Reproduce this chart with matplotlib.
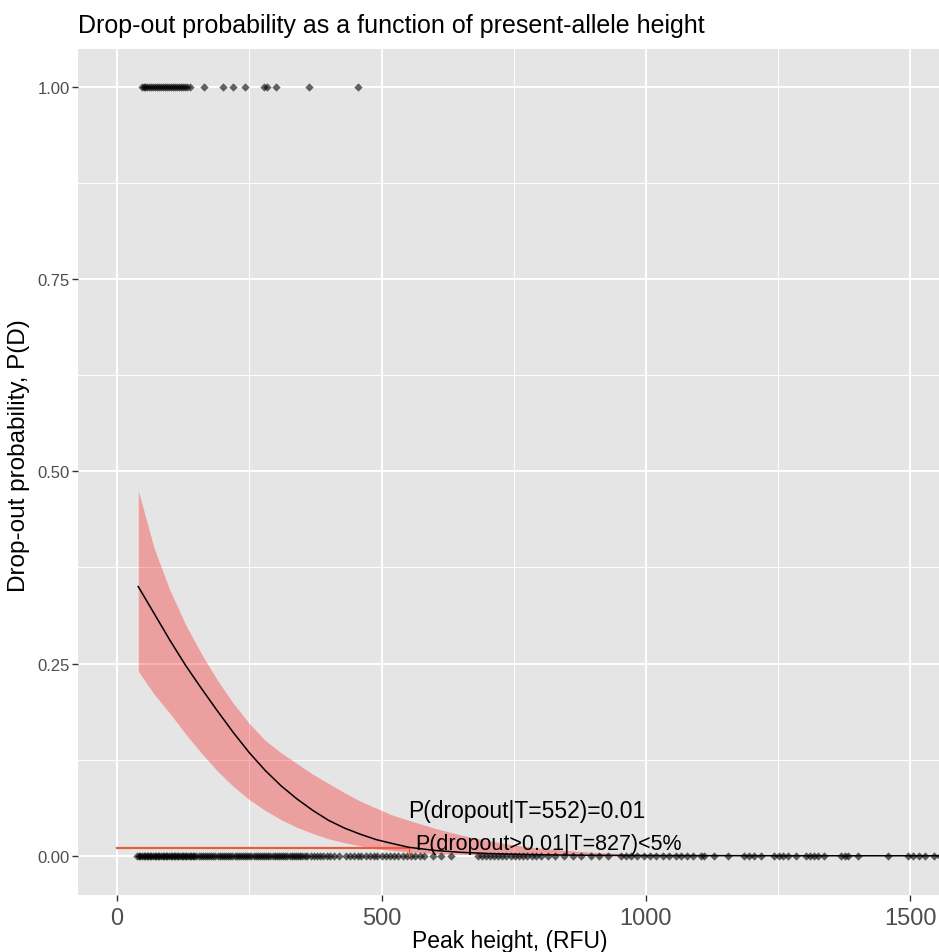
import matplotlib.pyplot as plt

plt.rcParams["font.family"] = ["Liberation Sans", "DejaVu Sans"]

# observed drop-outs (P(D)=1) and present alleles (P(D)=0), peak heights in RFU
dropout_x = [47, 50, 53, 57, 61, 64, 68, 72, 75, 79, 83, 86, 90, 94, 98, 101,
             105, 109, 113, 117, 121, 125, 129, 133, 138, 165, 200, 220, 242,
             277, 284, 301, 362, 455]
present_x = [38, 41, 44, 47, 50, 53, 56, 59, 62, 65, 68, 71, 74, 77, 80, 83, 86,
             89, 92, 95, 98, 101, 104, 107, 110, 113, 116, 119, 122, 125, 128,
             131, 134, 137, 140, 143, 146, 150, 154, 158, 162, 166, 170, 174,
             178, 182, 186, 190, 194, 198, 202, 206, 210, 214, 218, 222, 226,
             230, 234, 238, 242, 246, 250, 254, 258, 262, 266, 270, 274, 278,
             282, 286, 290, 294, 298, 302, 306, 310, 314, 318, 322, 326, 330,
             334, 338, 342, 346, 350, 355, 360, 366, 372, 378, 384, 390, 396,
             402, 410, 419, 432, 440, 448, 456, 462, 470, 478, 486, 492, 500,
             508, 516, 524, 532, 540, 548, 556, 564, 572, 580, 598, 612, 631,
             682, 690, 698, 705, 712, 720, 728, 736, 744, 752, 760, 768, 776,
             784, 792, 801, 814, 828, 846, 862, 878, 896, 912, 928, 953, 962,
             972, 984, 996, 1008, 1020, 1032, 1044, 1056, 1066, 1078, 1090,
             1104, 1110, 1129, 1155, 1186, 1195, 1204, 1218, 1242, 1252, 1260,
             1269, 1284, 1303, 1310, 1318, 1326, 1337, 1369, 1376, 1383, 1402,
             1458, 1496, 1506, 1516, 1527, 1545, 1556]

# fitted drop-out curve and its confidence band
fit_x = [40, 70, 100, 130, 160, 190, 220, 250, 280, 310, 340, 370, 400, 430,
         460, 490, 520, 552, 600, 650, 700, 750, 800, 850, 900, 950, 1000,
         1100, 1200, 1400, 1560]
fit_p = [0.350, 0.315, 0.280, 0.247, 0.217, 0.188, 0.160, 0.134, 0.111, 0.091,
         0.074, 0.059, 0.046, 0.036, 0.028, 0.021, 0.016, 0.011, 0.007,
         0.0045, 0.003, 0.002, 0.0013, 0.0009, 0.0006, 0.0004, 0.0003,
         0.0002, 0.0001, 0.0, 0.0]
fit_lo = [0.240, 0.210, 0.185, 0.158, 0.133, 0.110, 0.090, 0.073, 0.059,
          0.047, 0.037, 0.029, 0.022, 0.017, 0.013, 0.009, 0.007, 0.005,
          0.003, 0.002, 0.001, 0.0007, 0.0004, 0.0003, 0.0002, 0.0001,
          0.0001, 0.0, 0.0, 0.0, 0.0]
fit_hi = [0.475, 0.400, 0.345, 0.300, 0.262, 0.228, 0.198, 0.172, 0.150,
          0.134, 0.120, 0.106, 0.094, 0.082, 0.071, 0.062, 0.053, 0.046,
          0.036, 0.027, 0.020, 0.014, 0.010, 0.007, 0.0045, 0.003, 0.002,
          0.001, 0.0005, 0.0002, 0.0]

T_552 = 552
P_THRESH = 0.01

BG = "#E5E5E5"
TICK = "#4D4D4D"

fig = plt.figure(figsize=(9.39, 9.53), dpi=100)
ax = fig.add_axes([78 / 939, 57 / 953, (942 - 78) / 939, (896 - 50) / 953])
ax.set_facecolor(BG)

ax.fill_between(fit_x, fit_lo, fit_hi, color="red", alpha=0.3, lw=0, zorder=2)
ax.plot(fit_x, fit_p, color="black", lw=1.1, zorder=4)

ax.scatter(dropout_x, [1] * len(dropout_x), s=18, marker="D", color="black",
           alpha=0.6, lw=0, zorder=3)
ax.scatter(present_x, [0] * len(present_x), s=18, marker="D", color="black",
           alpha=0.6, lw=0, zorder=3)

ax.plot([0, T_552], [P_THRESH, P_THRESH], color="#EE5A3C", lw=1.6, zorder=3)
ax.plot([T_552, T_552], [0, P_THRESH], color="#EE5A3C", lw=1.0, zorder=3)

ax.text(551, 0.0585, "P(dropout|T=552)=0.01", fontsize=16.5, va="center",
        ha="left", zorder=5)
ax.text(564, 0.016, "P(dropout>0.01|T=827)<5%", fontsize=15.5, va="center",
        ha="left", zorder=5)

ax.set_xlim(-74, 1560)
ax.set_ylim(-0.051, 1.049)
ax.set_xticks([0, 500, 1000, 1500])
ax.set_xticks([250, 750, 1250], minor=True)
ax.set_yticks([0, 0.25, 0.5, 0.75, 1.0])
ax.set_yticklabels(["0.00", "0.25", "0.50", "0.75", "1.00"])
ax.set_yticks([0.125, 0.375, 0.625, 0.875], minor=True)
ax.grid(which="major", color="white", lw=1.4)
ax.grid(which="minor", color="white", lw=0.7)
ax.set_axisbelow(True)
for s in ax.spines.values():
    s.set_visible(False)
ax.tick_params(which="major", color="#333333", length=4, width=1)
ax.tick_params(axis="x", which="major", labelsize=17, labelcolor=TICK, pad=5)
ax.tick_params(axis="y", which="major", labelsize=12, labelcolor=TICK, pad=2)
ax.tick_params(which="minor", length=0)

ax.set_xlabel("Peak height, (RFU)", fontsize=16.5, labelpad=0)
ax.set_ylabel("Drop-out probability, P(D)", fontsize=17.5, labelpad=5)
ax.yaxis.set_label_coords(-0.055, 0.52)
ax.set_title("Drop-out probability as a function of present-allele height",
             fontsize=18, loc="left", pad=12)

fig.savefig("out.png", dpi=100)
